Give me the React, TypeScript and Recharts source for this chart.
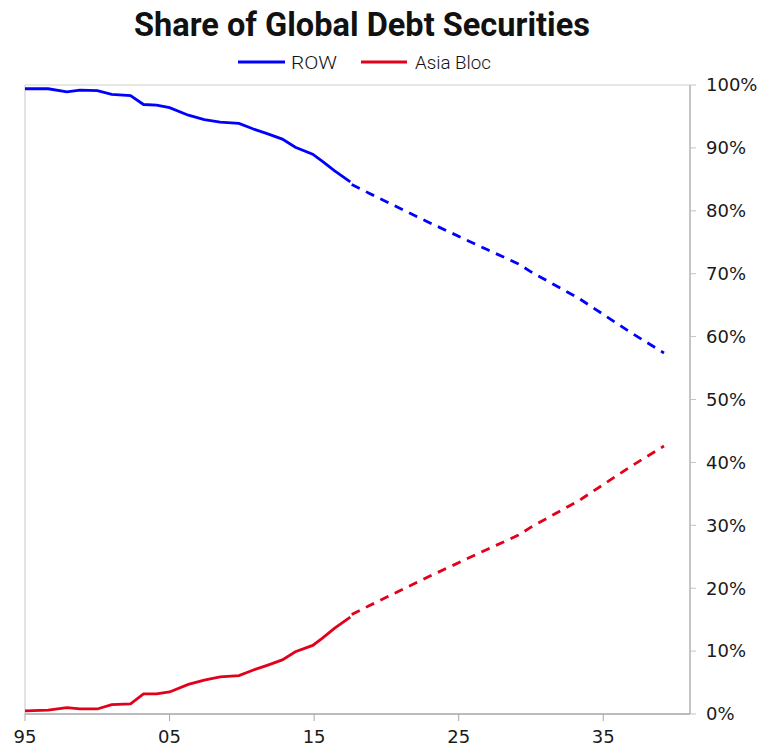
import React from "react";
import { LineChart, Line, XAxis, YAxis, ReferenceLine } from "recharts";

// Historical (solid) observations
const histYears = [1995, 1996.6, 1997.9, 1998.8, 2000.0, 2001.0, 2002.3, 2003.2, 2004.1, 2005.0, 2006.3, 2007.4, 2008.5, 2009.8, 2010.8, 2011.7, 2012.8, 2013.7, 2014.9, 2015.6, 2016.4, 2017.5];
const rowHistory = [99.4, 99.4, 98.9, 99.2, 99.1, 98.5, 98.3, 96.9, 96.8, 96.4, 95.2, 94.5, 94.1, 93.9, 93.0, 92.3, 91.4, 90.1, 89.0, 87.8, 86.4, 84.6];
const asiaHistory = [0.5, 0.6, 1.0, 0.8, 0.8, 1.5, 1.6, 3.2, 3.2, 3.5, 4.7, 5.4, 5.9, 6.1, 7.0, 7.7, 8.6, 9.9, 10.9, 12.1, 13.6, 15.4];

// Projection (dashed)
const projYears = [2017.6, 2018.8, 2022.8, 2027.0, 2029.1, 2030.0, 2033.3, 2037.0, 2039.2];
const rowProjection = [84.2, 82.8, 78.3, 73.8, 71.6, 70.3, 66.1, 60.5, 57.4];
const asiaProjection = [15.8, 17.2, 21.7, 26.2, 28.4, 29.7, 33.9, 39.5, 42.6];

const xTicks = [1995, 2005, 2015, 2025, 2035];
const yTicks = [0, 10, 20, 30, 40, 50, 60, 70, 80, 90, 100];

const BLUE = "#0000FF";
const RED = "#E2001A";
const FONT = "'DejaVu Sans', sans-serif";

type Row = { year: number; rowH?: number; asiaH?: number; rowP?: number; asiaP?: number };
const data: Row[] = [
  ...histYears.map((y, i) => ({ year: y, rowH: rowHistory[i], asiaH: asiaHistory[i] })),
  ...projYears.map((y, i) => ({ year: y, rowP: rowProjection[i], asiaP: asiaProjection[i] })),
];

export default function App() {
  return (
    <div style={{ position: "absolute", left: 0, top: 0, width: 768, height: 750, background: "#fff" }}>
      <div style={{ position: "absolute", left: 0, top: 0 }}>
        <LineChart width={768} height={750} data={data} margin={{ top: 85, right: 0, bottom: 0, left: 25 }}>
          <XAxis
            dataKey="year"
            type="number"
            domain={[1995, 2041]}
            ticks={xTicks}
            tickFormatter={(v: number) => String(v).slice(2)}
            height={36}
            tickSize={7}
            tickMargin={9}
            axisLine={{ stroke: "#a6a6a6", strokeWidth: 1.3 }}
            tickLine={{ stroke: "#a6a6a6" }}
            tick={{ fill: "#1a1a1a", fontSize: 18, fontFamily: FONT }}
          />
          <YAxis
            yAxisId="r"
            orientation="right"
            domain={[0, 100]}
            ticks={yTicks}
            interval={0}
            tickFormatter={(v: number) => `${v}%`}
            width={78}
            tickSize={6}
            tickMargin={10}
            axisLine={{ stroke: "#a6a6a6", strokeWidth: 1.3 }}
            tickLine={{ stroke: "#c4c4c4" }}
            tick={{ fill: "#1a1a1a", fontSize: 18, fontFamily: FONT, textAnchor: "start" }}
          />
          <ReferenceLine yAxisId="r" y={100} stroke="#d0d0d0" strokeWidth={1.2} />
          <ReferenceLine yAxisId="r" x={1995} stroke="#d0d0d0" strokeWidth={1.2} />
          <Line yAxisId="r" type="linear" dataKey="rowH" stroke={BLUE} strokeWidth={2.8} dot={false} connectNulls isAnimationActive={false} />
          <Line yAxisId="r" type="linear" dataKey="asiaH" stroke={RED} strokeWidth={2.8} dot={false} connectNulls isAnimationActive={false} />
          <Line yAxisId="r" type="linear" dataKey="rowP" stroke={BLUE} strokeWidth={2.8} strokeDasharray="9 7" dot={false} connectNulls isAnimationActive={false} />
          <Line yAxisId="r" type="linear" dataKey="asiaP" stroke={RED} strokeWidth={2.8} strokeDasharray="9 7" dot={false} connectNulls isAnimationActive={false} />
        </LineChart>
      </div>
      <svg width={768} height={80} style={{ position: "absolute", left: 0, top: 0, pointerEvents: "none" }}>
        <text x={362} y={36} textAnchor="middle" fontFamily="Roboto, sans-serif" fontWeight={700} fontSize={34} fill="#111" textLength={456} lengthAdjust="spacingAndGlyphs">
          Share of Global Debt Securities
        </text>
        <line x1={238} y1={62} x2={285} y2={62} stroke={BLUE} strokeWidth={3} />
        <text x={291} y={69} fontFamily="Roboto, sans-serif" fontWeight={300} fontSize={19} fill="#111" textLength={46} lengthAdjust="spacingAndGlyphs">ROW</text>
        <line x1={361} y1={62} x2={407} y2={62} stroke={RED} strokeWidth={3} />
        <text x={415} y={69} fontFamily="Roboto, sans-serif" fontWeight={300} fontSize={19} fill="#111" textLength={76} lengthAdjust="spacingAndGlyphs">Asia Bloc</text>
      </svg>
    </div>
  );
}
